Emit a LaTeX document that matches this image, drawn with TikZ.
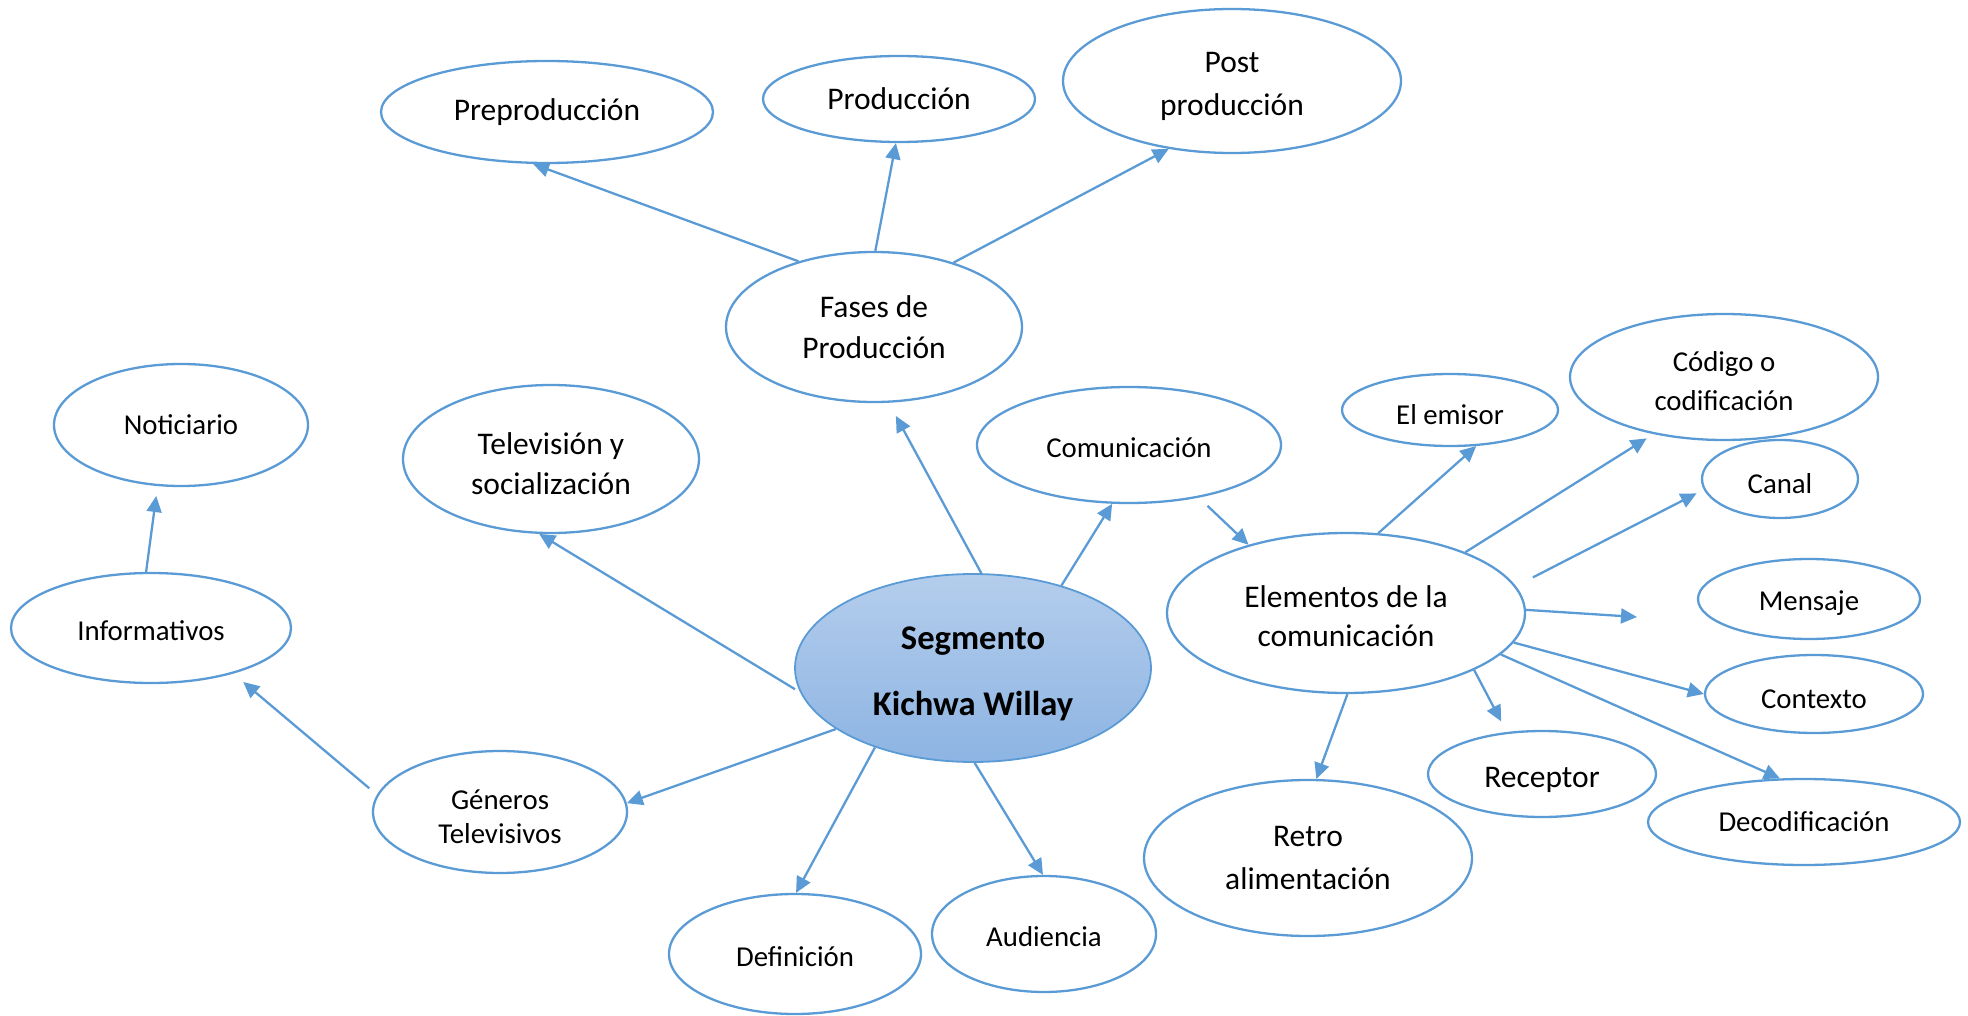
\documentclass[tikz,border=0pt]{standalone}
\usepackage{fontspec}
\setmainfont{Carlito}
\usetikzlibrary{shapes.geometric,arrows.meta}
\definecolor{lblue}{RGB}{91,155,213}
\definecolor{segtop}{RGB}{180,205,236}
\definecolor{segbot}{RGB}{141,180,227}
\newcommand\ts{\rule{0pt}{1em}}
\newcommand\tsh{\rule{0pt}{0.87em}}
\begin{document}
\begin{tikzpicture}[x=1pt,y=-1pt,
  bub/.style={ellipse, draw=lblue, line width=2.3pt, fill=white, inner sep=0pt, align=center},
  sz/.style 2 args={minimum width=#1pt, minimum height=#2pt},
  fs/.style={font=\fontsize{28.8}{37}\selectfont},
  fl/.style={font=\fontsize{31.5}{41}\selectfont},
  conn/.style={draw=lblue, line width=2.3pt, -{Triangle[length=16pt,width=15pt]}}]
\useasboundingbox (0,0) rectangle (1968,1016);

\node[bub,fl,sz={332}{102}] (pre) at (547,112) {Preproducción};
\node[bub,fl,sz={272}{86}] (prod) at (899,99) {Producción};
\node[bub,fl,sz={338}{144},font=\fontsize{31.5}{43}\selectfont] (post) at (1232,81) {\ts Post\\producción};
\node[bub,fl,sz={296}{150}] (fases) at (874,327) {Fases de\\Producción};
\node[bub,fs,sz={254}{122}] (noti) at (181,425) {Noticiario};
\node[bub,fs,sz={280}{110}] (info) at (151,628) {\tsh Informativos};
\node[bub,fl,sz={296}{148},font=\fontsize{31.5}{40}\selectfont] (tele) at (551,459) {\ts Televisión y\\socialización};
\node[bub,fs,sz={304}{116}] (comu) at (1129,445) {\tsh Comunicación};
\node[ellipse, draw=lblue, line width=1.8pt, top color=segtop, bottom color=segbot, inner sep=0pt, sz={356}{188}, font=\bfseries\fontsize{34.6}{66.7}\selectfont, align=center] (seg) at (973,668) {\ts Segmento\\Kichwa Willay};
\node[bub,fl,sz={358}{160},font=\fontsize{31.5}{39}\selectfont] (elem) at (1346,613) {\tsh Elementos de la\\comunicación};
\node[bub,fs,sz={216}{72}] (emis) at (1450,410) {\ts El emisor};
\node[bub,fs,sz={308}{126},font=\fontsize{28.8}{39}\selectfont] (cod) at (1724,377) {\ts Código o\\codificación};
\node[bub,fs,sz={156}{78}] (canal) at (1780,479) {\ts Canal};
\node[bub,fs,sz={222}{80}] (mens) at (1809,599) {\ts Mensaje};
\node[bub,fs,sz={218}{78}] (ctx) at (1814,694) {\ts Contexto};
\node[bub,fl,sz={228}{86}] (rec) at (1542,774) {\ts Receptor};
\node[bub,fs,sz={312}{86}] (deco) at (1804,822) {Decodificación};
\node[bub,fl,sz={328}{156},font=\fontsize{31.5}{43}\selectfont] (retro) at (1308,858) {Retro\\alimentación};
\node[bub,fs,sz={224}{116}] (aud) at (1044,934) {\tsh Audiencia};
\node[bub,fs,sz={252}{120}] (defi) at (795,954) {\tsh Definición};
\node[bub,sz={254}{122},font=\fontsize{28.8}{34}\selectfont] (gen) at (500,812) {\ts Géneros\\Televisivos};

\draw[conn] (fases.139) -- (pre.-105);
\draw[conn] (fases.89) -- (prod.-94);
\draw[conn] (fases.39) -- (post.-133);
\draw[conn, shorten >=15pt] (seg.85) -- (fases.-79);
\draw[conn] (seg.43) -- (comu.-106);
\draw[conn, shorten <=12pt] (comu.-37) -- (elem.145);
\draw[conn, shorten <=6pt] (seg.-172) -- (tele.-99);
\draw[conn] (seg.-156) -- (gen.4);
\draw[conn, shorten <=10pt, shorten >=13pt] (gen.172) -- (info.-29);
\draw[conn, shorten >=10pt] (info.95) -- (noti.-111);
\draw[conn] (seg.-141) -- (defi.89);
\draw[conn] (seg.-89) -- (aud.91);
\draw[conn] (elem.68) -- (emis.-54);
\draw[conn, shorten >=8pt] (elem.27.5) -- (cod.-141);
\draw[conn, shorten <=19pt, shorten >=8pt] (elem.9) -- (canal.-172);
\coordinate (mensend) at (1637,617);
\draw[conn] (elem.1.6) -- (mensend);
\draw[conn] (elem.-10) -- (ctx.180);
\draw[conn, shorten >=12pt] (elem.-24.5) -- (rec.130);
\draw[conn] (elem.-15.3) -- (deco.119);
\draw[conn] (elem.-89) -- (retro.84);
\end{tikzpicture}
\end{document}
